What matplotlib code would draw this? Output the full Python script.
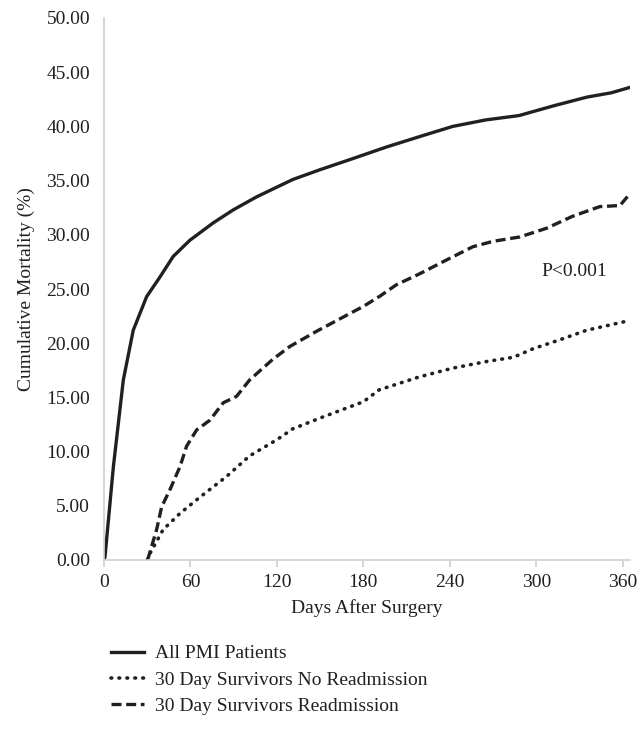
import matplotlib
matplotlib.use("Agg")
import matplotlib.pyplot as plt

plt.rcParams['font.family'] = ['Liberation Serif', 'DejaVu Serif']

# All PMI patients
all_days = [0, 0.7, 6.5, 13.4, 20.3, 29.6, 38.8, 48, 59.6, 75.8, 89.7, 105.9, 120, 131, 149.8,
            172, 196, 220, 242, 265, 288, 312, 335, 352, 365]
all_mort = [0, 0.3, 8.6, 16.6, 21.2, 24.3, 26.1, 28.0, 29.5, 31.1, 32.3, 33.5, 34.4, 35.1, 36.0,
            37.0, 38.1, 39.1, 40.0, 40.6, 41.0, 41.9, 42.7, 43.1, 43.6]

# 30 day survivors, readmission
readm_days = [30, 30.7, 36.5, 40, 45.8, 52.7, 57.3, 64.3, 73.5, 82.7, 92, 101, 117, 129, 147.5,
              180, 191, 203, 219, 238, 256, 270, 288.5, 307, 325, 344, 358, 365]
readm_mort = [0, 0.2, 2.8, 4.9, 6.5, 8.6, 10.5, 12.0, 12.9, 14.5, 15.1, 16.6, 18.5, 19.7, 21.1,
              23.4, 24.3, 25.4, 26.4, 27.7, 28.9, 29.4, 29.8, 30.6, 31.7, 32.6, 32.7, 33.8]

# 30 day survivors, no readmission
noread_days = [30, 31.9, 41, 52.7, 66.6, 85, 101, 120, 131, 150, 180, 191, 219,
               242, 265, 284, 298, 316, 335, 365]
noread_mort = [0, 0.6, 2.8, 4.3, 5.8, 7.7, 9.6, 11.1, 12.1, 13.1, 14.6, 15.7, 16.9,
               17.7, 18.3, 18.7, 19.5, 20.3, 21.2, 22.1]

x_ticks = [0, 60, 120, 180, 240, 300, 360]
y_ticks = [0, 5, 10, 15, 20, 25, 30, 35, 40, 45, 50]

ink = '#231f20'
grey = '#d0d0d0'
fs = 14

fig = plt.figure(figsize=(6.4, 7.29), dpi=100)
ax = fig.add_axes([104/640, 1 - 560/729, (630 - 104)/640, (560 - 18)/729])

ax.plot(all_days, all_mort, color=ink, lw=2.4, linestyle='-', label='All PMI Patients')
ax.plot(noread_days, noread_mort, color=ink, lw=2.6, linestyle=(0, (0.2, 2.0)),
        dash_capstyle='round', label='30 Day Survivors No Readmission')
ax.plot(readm_days, readm_mort, color=ink, lw=2.4, linestyle=(0, (3, 1.4)),
        label='30 Day Survivors Readmission')

ax.text(326, 26.6, 'P<0.001', fontsize=fs, color=ink, ha='center', va='center')

ax.set_xlim(0, 365)
ax.set_ylim(0, 50)
ax.set_xticks(x_ticks)
ax.set_yticks(y_ticks)
ax.set_yticklabels([f'{v:.2f}' for v in y_ticks])
for s in ['top', 'right']:
    ax.spines[s].set_visible(False)
for s in ['left', 'bottom']:
    ax.spines[s].set_color(grey)
    ax.spines[s].set_linewidth(1.2)
ax.tick_params(axis='x', colors=grey, length=5, width=1.2, labelcolor=ink, labelsize=fs, pad=5)
ax.tick_params(axis='y', length=0, labelcolor=ink, labelsize=fs, pad=10)

ax.set_xlabel('Days After Surgery', fontsize=fs, color=ink, labelpad=6)
ax.set_ylabel('Cumulative Mortality (%)', fontsize=fs, color=ink, labelpad=8)

fig.legend(loc='upper left', bbox_to_anchor=(101/640, 1 - 635/729), frameon=False,
           fontsize=fs, handlelength=1.7, handletextpad=0.6, labelspacing=0.45,
           borderpad=0, labelcolor=ink)

fig.savefig('out.png', dpi=100, facecolor='white')
